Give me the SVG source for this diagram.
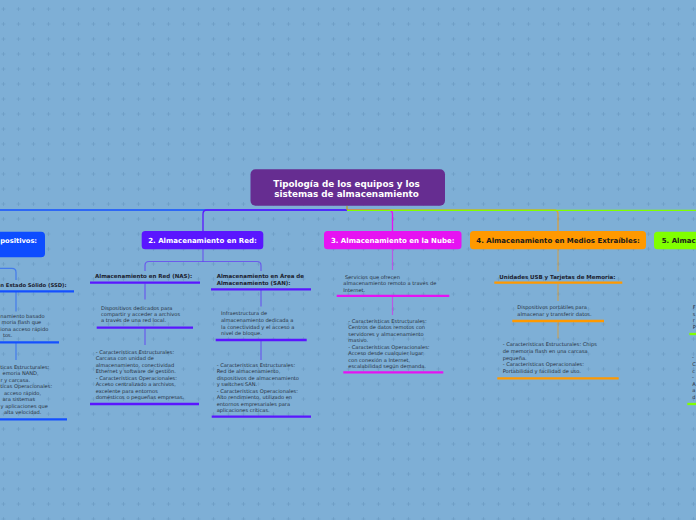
<svg xmlns="http://www.w3.org/2000/svg" width="696" height="520" viewBox="0 0 696 520">
<defs>
<pattern id="grid" x="0" y="0" width="15" height="15" patternUnits="userSpaceOnUse">
<path d="M1.5 9 H5.5 M3.5 7 V11" stroke="#6d9dc5" stroke-width="0.8" fill="none"/>
</pattern>
<style>
.bg{fill:#7eafd6}
.t{font-family:"DejaVu Sans","Liberation Sans",sans-serif}
.title{font-size:8.8px;font-weight:bold;fill:#ffffff;text-anchor:middle}
.bn{font-size:7px;font-weight:bold;text-anchor:middle}
.w{fill:#ffffff}
.d{fill:#1a1a1a}
.h{font-size:5.5px;font-weight:bold;fill:#1c2230}
.s{font-size:5.1px;fill:#26303d}
.c{fill:none;stroke-width:1.3}
.sc{fill:none;stroke-width:1.2;stroke-opacity:0.55}
.u{stroke-width:2.3;fill:none}
.blue{stroke:#1450ff}
.vio{stroke:#5a16ff}
.mag{stroke:#e612f2}
.ora{stroke:#ff9900}
.grn{stroke:#80ff00}
</style>
</defs>
<rect class="bg" x="0" y="0" width="696" height="520"/>
<rect fill="url(#grid)" x="0" y="0" width="696" height="520"/>

<g id="connectors">
<path class="c blue" d="M347 210 H-20"/>
<path class="c vio" d="M347 210 H207 Q203 210 203 214 V231"/>
<path class="c mag" d="M347 210 H388 Q392.5 210 392.5 214 V231"/>
<path class="c ora" stroke-opacity="0.7" d="M347 210 H554 Q558 210 558 214 V231"/>
<path class="c grn" d="M347 210.3 H720"/>
<path class="c" stroke="#b0a030" d="M347 206 V210"/>
<path class="sc blue" d="M-10 268.3 H12 Q16 268.3 16 272.3 V280"/>
<path class="sc blue" d="M16 292 V311.5"/>
<path class="sc blue" d="M16 343 V360"/>
<path class="sc vio" d="M203 249 V261.5"/>
<path class="sc vio" d="M149 261.5 H257 Q261 261.5 261 265.5 V271 M149 261.5 Q145 261.5 145 265.5 V271"/>
<path class="sc vio" d="M145 283.5 V299.5 M145 328.5 V345"/>
<path class="sc vio" d="M261 290 V306.5 M261 341 V360"/>
<path class="sc mag" d="M392.5 249 V270 M392.5 296.5 V315"/>
<path class="sc ora" d="M558 249 V271.5 M558 283.5 V301 M558 322 V338.5"/>
</g>

<g id="root">
<rect x="250.5" y="169.3" width="194.5" height="36.4" rx="5" fill="#662d91"/>
<text class="t title" x="346.5" y="186.5">Tipología de los equipos y los</text>
<text class="t title" x="346.5" y="197">sistemas de almacenamiento</text>
</g>

<g id="branch1">
<rect x="-10" y="231.7" width="55" height="25.6" rx="4" fill="#0d4dff"/>
<text class="t bn w" x="0.3" y="243.2" style="text-anchor:start;font-size:6.7px">positivos:</text>
</g>
<g id="b1-ssd">
<text class="t h" x="0.3" y="287" style="font-size:5.25px">n Estado Sólido (SSD):</text>
<line class="u blue" x1="0" y1="291.3" x2="74" y2="291.3"/>
</g>
<g id="b1-desc">
<text class="t s" x="0.3" y="318">namiento basado</text>
<text class="t s" x="1.5" y="324.4">moria flash que</text>
<text class="t s" x="0.3" y="330.8">iona acceso rápido</text>
<text class="t s" x="3" y="337.2">tos.</text>
<line class="u blue" x1="0" y1="342.3" x2="59" y2="342.3"/>
</g>
<g id="b1-char">
<text class="t s" x="0.3" y="368.5">ticas Estructurales:</text>
<text class="t s" x="2.5" y="375">emoria NAND,</text>
<text class="t s" x="0.5" y="381.5">r y carcasa.</text>
<text class="t s" x="0.3" y="388">ticas Operacionales:</text>
<text class="t s" x="4" y="394.5">acceso rápido,</text>
<text class="t s" x="2.5" y="401">ara sistemas</text>
<text class="t s" x="0.5" y="407.5">y aplicaciones que</text>
<text class="t s" x="4" y="414">alta velocidad.</text>
<line class="u blue" x1="0" y1="419.3" x2="67" y2="419.3"/>
</g>

<g id="branch2">
<rect x="141.7" y="231" width="121.6" height="18.3" rx="3.5" fill="#5a16ff"/>
<text class="t bn w" x="202.5" y="242.8">2. Almacenamiento en Red:</text>
</g>
<g id="b2-nas">
<text class="t h" x="95" y="278">Almacenamiento en Red (NAS):</text>
<line class="u vio" x1="90" y1="282.7" x2="200" y2="282.7"/>
</g>
<g id="b2-nas-desc">
<text class="t s" x="101" y="309.5">Dispositivos dedicados para</text>
<text class="t s" x="101" y="315.8">compartir y acceder a archivos</text>
<text class="t s" x="101" y="322.1">a través de una red local.</text>
<line class="u vio" x1="96.7" y1="327.7" x2="193" y2="327.7"/>
</g>
<g id="b2-nas-char">
<text class="t s" x="95.7" y="353.5">- Características Estructurales:</text>
<text class="t s" x="95.7" y="360">Carcasa con unidad de</text>
<text class="t s" x="95.7" y="366.5">almacenamiento, conectividad</text>
<text class="t s" x="95.7" y="373">Ethernet y software de gestión.</text>
<text class="t s" x="95.7" y="379.5">- Características Operacionales:</text>
<text class="t s" x="95.7" y="386">Acceso centralizado a archivos,</text>
<text class="t s" x="95.7" y="392.5">excelente para entornos</text>
<text class="t s" x="95.7" y="399">domésticos o pequeñas empresas.</text>
<line class="u vio" x1="90" y1="404" x2="199" y2="404"/>
</g>
<g id="b2-san">
<text class="t h" x="216.7" y="278">Almacenamiento en Área de</text>
<text class="t h" x="216.7" y="284.7">Almacenamiento (SAN):</text>
<line class="u vio" x1="211" y1="289.3" x2="311" y2="289.3"/>
</g>
<g id="b2-san-desc">
<text class="t s" x="221" y="315.1">Infraestructura de</text>
<text class="t s" x="221" y="321.8">almacenamiento dedicada a</text>
<text class="t s" x="221" y="328.5">la conectividad y el acceso a</text>
<text class="t s" x="221" y="335.1">nivel de bloque.</text>
<line class="u vio" x1="215.7" y1="340" x2="306.7" y2="340"/>
</g>
<g id="b2-san-char">
<text class="t s" x="216.7" y="366.8">- Características Estructurales:</text>
<text class="t s" x="216.7" y="373.3">Red de almacenamiento,</text>
<text class="t s" x="216.7" y="379.8">dispositivos de almacenamiento</text>
<text class="t s" x="216.7" y="386.3">y switches SAN.</text>
<text class="t s" x="216.7" y="392.8">- Características Operacionales:</text>
<text class="t s" x="216.7" y="399.3">Alto rendimiento, utilizado en</text>
<text class="t s" x="216.7" y="405.8">entornos empresariales para</text>
<text class="t s" x="216.7" y="412.3">aplicaciones críticas.</text>
<line class="u vio" x1="211.7" y1="416.7" x2="311" y2="416.7"/>
</g>

<g id="branch3">
<rect x="324" y="231" width="137.5" height="18.3" rx="3.5" fill="#e612f2"/>
<text class="t bn w" x="392.7" y="242.8">3. Almacenamiento en la Nube:</text>
</g>
<g id="b3-desc">
<text class="t s" x="345" y="278.5">Servicios que ofrecen</text>
<text class="t s" x="343.3" y="285">almacenamiento remoto a través de</text>
<text class="t s" x="343.3" y="291.5">Internet.</text>
<line class="u mag" x1="336.7" y1="295.8" x2="449.3" y2="295.8"/>
</g>
<g id="b3-char">
<text class="t s" x="348.3" y="322.5">- Características Estructurales:</text>
<text class="t s" x="348.3" y="329">Centros de datos remotos con</text>
<text class="t s" x="348.3" y="335.5">servidores y almacenamiento</text>
<text class="t s" x="348.3" y="342">masivo.</text>
<text class="t s" x="348.3" y="348.5">- Características Operacionales:</text>
<text class="t s" x="348.3" y="355">Acceso desde cualquier lugar</text>
<text class="t s" x="348.3" y="361.5">con conexión a Internet,</text>
<text class="t s" x="348.3" y="368">escalabilidad según demanda.</text>
<line class="u mag" x1="343.3" y1="372.3" x2="443.3" y2="372.3"/>
</g>

<g id="branch4">
<rect x="470" y="231" width="176" height="18.3" rx="3.5" fill="#ff9900"/>
<text class="t bn d" x="558" y="242.8">4. Almacenamiento en Medios Extraíbles:</text>
</g>
<g id="b4-usb">
<text class="t h" x="499.3" y="278.7">Unidades USB y Tarjetas de Memoria:</text>
<line class="u ora" x1="494.3" y1="282.7" x2="622.3" y2="282.7"/>
</g>
<g id="b4-desc">
<text class="t s" x="517.3" y="308.5">Dispositivos portátiles para</text>
<text class="t s" x="517.3" y="316">almacenar y transferir datos.</text>
<line class="u ora" x1="512.3" y1="321" x2="604" y2="321"/>
</g>
<g id="b4-char">
<text class="t s" x="502.7" y="346.2">- Características Estructurales: Chips</text>
<text class="t s" x="502.7" y="353">de memoria flash en una carcasa</text>
<text class="t s" x="502.7" y="359.5">pequeña.</text>
<text class="t s" x="502.7" y="366.1">- Características Operacionales:</text>
<text class="t s" x="502.7" y="372.7">Portabilidad y facilidad de uso.</text>
<line class="u ora" x1="497.3" y1="378.3" x2="618.7" y2="378.3"/>
</g>

<g id="branch5">
<rect x="654" y="231.7" width="60" height="17.6" rx="3.5" fill="#80ff00"/>
<text class="t bn d" x="661.7" y="243.2" style="text-anchor:start">5. Almac</text>
</g>
<g id="b5-desc">
<text class="t s" x="692.8" y="308.8">F</text>
<text class="t s" x="692.8" y="315.5">s</text>
<text class="t s" x="692.8" y="322">r</text>
<text class="t s" x="692.8" y="329">P</text>
<line class="u grn" x1="689.3" y1="334" x2="700" y2="334"/>
</g>
<g id="b5-char">
<text class="t s" x="692" y="359">-</text>
<text class="t s" x="692.3" y="366">C</text>
<text class="t s" x="692.3" y="372.7">c</text>
<text class="t s" x="692" y="379.3">-</text>
<text class="t s" x="692.3" y="385.5">A</text>
<text class="t s" x="692.3" y="392">a</text>
<text class="t s" x="692.3" y="398.5">d</text>
<line class="u grn" x1="687.3" y1="404" x2="700" y2="404"/>
</g>
</svg>
